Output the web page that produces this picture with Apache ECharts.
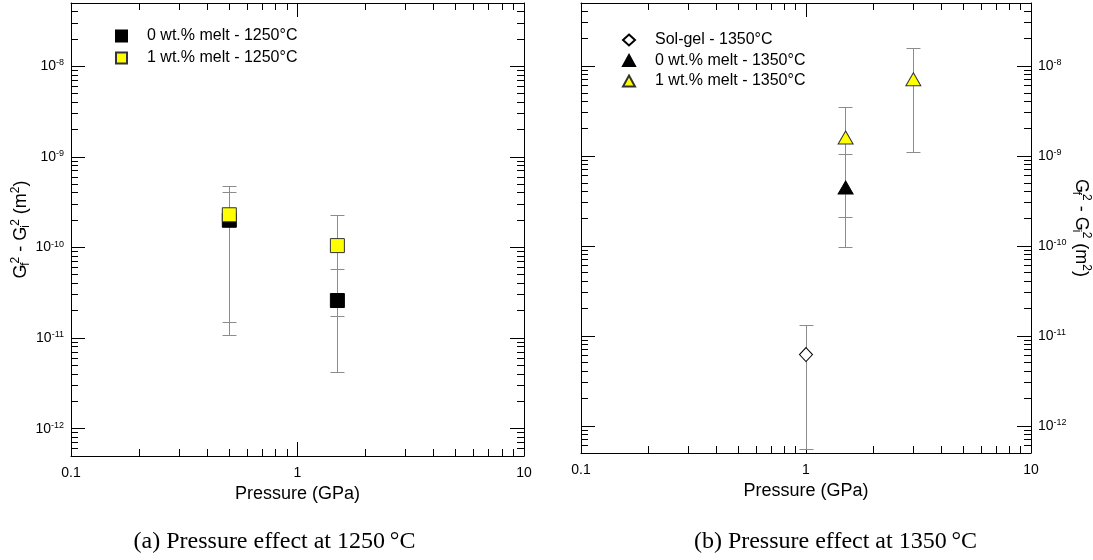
<!DOCTYPE html>
<html><head><meta charset="utf-8">
<script src="https://cdn.jsdelivr.net/npm/echarts@6/dist/echarts.min.js"></script>
<style>html,body{margin:0;padding:0;background:#fff}#c{width:1093px;height:560px}</style>
</head><body><div id="c"></div>
<script>
// ---------- data ----------
const xTickLabels = ['0.1', '1', '10'];
const xMin = 0.1, xMax = 10, yMin = 5e-13, yMax = 5e-8;
const minorMultipliers = [2, 3, 4, 5, 6, 7, 8, 9];
const xDecades = [-1, 0];
const yDecades = [-13, -12, -11, -10, -9, -8];

// Panel (a) 1250 °C
const a0Name = '0 wt.% melt - 1250°C';
const a0Pressure = [0.5, 1.5];
const a0Value = [2.0e-10, 2.6e-11];
const a0Low = [1.07e-11, 4.2e-12];
const a0High = [4.05e-10, 5.7e-11];

const a1Name = '1 wt.% melt - 1250°C';
const a1Pressure = [0.5, 1.5];
const a1Value = [2.3e-10, 1.05e-10];
const a1Low = [1.5e-11, 1.73e-11];
const a1High = [4.7e-10, 2.26e-10];

// Panel (b) 1350 °C
const bsName = 'Sol-gel - 1350°C';
const bsPressure = [1.0];
const bsValue = [6.2e-12];
const bsLow = [5.5e-13];
const bsHigh = [1.29e-11];

const b0Name = '0 wt.% melt - 1350°C';
const b0Pressure = [1.5];
const b0Value = [4.45e-10];
const b0Low = [9.6e-11];
const b0High = [1.03e-9];

const b1Name = '1 wt.% melt - 1350°C';
const b1Pressure = [1.5, 3.0];
const b1Value = [1.6e-9, 7.1e-9];
const b1Low = [2.07e-10, 1.09e-9];
const b1High = [3.45e-9, 1.56e-8];

const captionA = '(a) Pressure effect at 1250\u2009°C';
const captionB = '(b) Pressure effect at 1350\u2009°C';
const xTitle = 'Pressure (GPa)';

// ---------- helpers ----------
const SANS = '"Liberation Sans", Arial, Helvetica, sans-serif';
const SERIF = '"Liberation Serif", "Times New Roman", serif';
const pts = (xs, ys) => xs.map((x, i) => [x, ys[i]]);
const bars = (xs, lo, hi) => xs.map((x, i) => [x, lo[i], hi[i]]);

function minorTickData() {
  const d = [];
  xDecades.forEach(e => minorMultipliers.forEach(m => {
    const v = m * Math.pow(10, e);
    if (v > xMin && v < xMax) d.push([v, 1e-10, 0]);
  }));
  yDecades.forEach(e => minorMultipliers.forEach(m => {
    const v = m * Math.pow(10, e);
    if (v > yMin && v < yMax) d.push([1, v, 1]);
  }));
  return d;
}

function crisp(v) { return Math.round(v - 0.5) + 0.5; }

function renderMinor(params, api) {
  const cs = params.coordSys;
  const kind = api.value(2);
  const L = 7;
  const st = { stroke: '#000', lineWidth: 1 };
  if (kind === 0) {
    const px = crisp(api.coord([api.value(0), api.value(1)])[0]);
    return { type: 'group', children: [
      { type: 'line', shape: { x1: px, y1: cs.y + cs.height, x2: px, y2: cs.y + cs.height - L }, style: st },
      { type: 'line', shape: { x1: px, y1: cs.y, x2: px, y2: cs.y + L }, style: st }
    ]};
  }
  const py = crisp(api.coord([api.value(0), api.value(1)])[1]);
  return { type: 'group', children: [
    { type: 'line', shape: { x1: cs.x, y1: py, x2: cs.x + L, y2: py }, style: st },
    { type: 'line', shape: { x1: cs.x + cs.width, y1: py, x2: cs.x + cs.width - L, y2: py }, style: st }
  ]};
}

function renderErr(params, api) {
  const x = api.value(0);
  const p1 = api.coord([x, api.value(1)]);
  const p2 = api.coord([x, api.value(2)]);
  const cx = crisp(p1[0]);
  const w = 7;
  const st = { stroke: '#8c8c8c', lineWidth: 1 };
  return { type: 'group', children: [
    { type: 'line', shape: { x1: cx, y1: p1[1], x2: cx, y2: p2[1] }, style: st },
    { type: 'line', shape: { x1: cx - w, y1: crisp(p1[1]), x2: cx + w, y2: crisp(p1[1]) }, style: st },
    { type: 'line', shape: { x1: cx - w, y1: crisp(p2[1]), x2: cx + w, y2: crisp(p2[1]) }, style: st }
  ]};
}

function yLabel(v) {
  const l = Math.log10(v);
  const e = Math.round(l);
  if (Math.abs(l - e) > 1e-6) return '';
  return '{b|10}{s|' + e + '}';
}
function xLabel(v) {
  const l = Math.log10(v);
  const e = Math.round(l);
  if (Math.abs(l - e) > 1e-6) return '';
  return xTickLabels[e + 1];
}

const tickRich = {
  b: { fontSize: 14, fontFamily: SANS, color: '#000', lineHeight: 16 },
  s: { fontSize: 9, fontFamily: SANS, color: '#000', verticalAlign: 'top', lineHeight: 16, padding: [0, 0, 6, 0] }
};
const nameRich = {
  t: { fontSize: 18, fontFamily: SANS, color: '#000', lineHeight: 24 },
  sub: { fontSize: 12, fontFamily: SANS, color: '#000', width: 1, padding: [9, 0, 0, 0] },
  sup: { fontSize: 12, fontFamily: SANS, color: '#000', padding: [0, 0, 10, 0] }
};
const yName = '{t|G}{sub|f}{sup|2}{t| - G}{sub|i}{sup|2}{t| (m}{sup|2}{t|)}';

function xAxisDef(grid, pos, withLabels) {
  return {
    type: 'log', logBase: 10, gridIndex: grid, position: pos, min: xMin, max: xMax,
    axisLine: { show: true, lineStyle: { color: '#000', width: 1 } },
    axisTick: { show: true, inside: true, length: 14, lineStyle: { color: '#000', width: 1 } },
    axisLabel: { show: withLabels, margin: 10, formatter: xLabel, fontSize: 14, fontFamily: SANS, color: '#000' },
    splitLine: { show: false },
    name: withLabels ? xTitle : '', nameLocation: 'middle', nameGap: 27,
    nameTextStyle: { fontSize: 18, fontFamily: SANS, color: '#000' }
  };
}
function yAxisDef(grid, pos, withLabels, nameRot) {
  return {
    type: 'log', logBase: 10, gridIndex: grid, position: pos, min: yMin, max: yMax,
    axisLine: { show: true, lineStyle: { color: '#000', width: 1 } },
    axisTick: { show: true, inside: true, length: 14, lineStyle: { color: '#000', width: 1 } },
    axisLabel: { show: withLabels, margin: 7, formatter: yLabel, rich: tickRich },
    splitLine: { show: false },
    name: withLabels ? yName : '', nameLocation: 'middle', nameGap: 36, nameRotate: nameRot,
    nameTextStyle: { rich: nameRich }
  };
}

const legendBase = {
  orient: 'vertical', itemWidth: 11, itemHeight: 11,
  formatter: n => '{sp| }' + n,
  textStyle: { fontSize: 16, fontFamily: SANS, color: '#000', lineHeight: 16,
    rich: { sp: { width: 15, fontSize: 16, lineHeight: 16 } } },
  selectedMode: false
};

const option = {
  animation: false,
  backgroundColor: '#fff',
  grid: [
    { left: 71, top: 3, width: 453, height: 453, outerBoundsMode: 'none', containLabel: false },
    { left: 581, top: 3, width: 450, height: 450, outerBoundsMode: 'none', containLabel: false }
  ],
  xAxis: [
    xAxisDef(0, 'bottom', true), xAxisDef(0, 'top', false),
    xAxisDef(1, 'bottom', true), xAxisDef(1, 'top', false)
  ],
  yAxis: [
    yAxisDef(0, 'left', true, 90), yAxisDef(0, 'right', false, 90),
    yAxisDef(1, 'left', false, -90), yAxisDef(1, 'right', true, -90)
  ],
  legend: [
    Object.assign({}, legendBase, { left: 110, top: 23, itemGap: 6, data: [a0Name, a1Name] }),
    Object.assign({}, legendBase, { left: 617, top: 27, itemGap: 4.5, itemWidth: 12, data: [bsName, b0Name, b1Name] })
  ],
  graphic: [
    { type: 'text', x: 274.5, y: 542, style: { text: captionA, font: '24px ' + SERIF, fill: '#000', align: 'center', verticalAlign: 'middle' } },
    { type: 'text', x: 835.5, y: 542, style: { text: captionB, font: '24px ' + SERIF, fill: '#000', align: 'center', verticalAlign: 'middle' } }
  ],
  series: [
    { type: 'custom', xAxisIndex: 0, yAxisIndex: 0, renderItem: renderMinor, data: minorTickData(), silent: true, z: 1 },
    { type: 'custom', xAxisIndex: 2, yAxisIndex: 2, renderItem: renderMinor, data: minorTickData(), silent: true, z: 1 },
    // error bars
    { type: 'custom', xAxisIndex: 0, yAxisIndex: 0, renderItem: renderErr, data: bars(a0Pressure, a0Low, a0High), z: 2, silent: true },
    { type: 'custom', xAxisIndex: 0, yAxisIndex: 0, renderItem: renderErr, data: bars(a1Pressure, a1Low, a1High), z: 2, silent: true },
    { type: 'custom', xAxisIndex: 2, yAxisIndex: 2, renderItem: renderErr, data: bars(bsPressure, bsLow, bsHigh), z: 2, silent: true },
    { type: 'custom', xAxisIndex: 2, yAxisIndex: 2, renderItem: renderErr, data: bars(b0Pressure, b0Low, b0High), z: 2, silent: true },
    { type: 'custom', xAxisIndex: 2, yAxisIndex: 2, renderItem: renderErr, data: bars(b1Pressure, b1Low, b1High), z: 2, silent: true },
    // markers
    { name: a0Name, type: 'scatter', xAxisIndex: 0, yAxisIndex: 0, symbol: 'rect', symbolSize: 14, z: 3,
      itemStyle: { color: '#000', borderColor: '#000', borderWidth: 1, opacity: 1 }, data: pts(a0Pressure, a0Value) },
    { name: a1Name, type: 'scatter', xAxisIndex: 0, yAxisIndex: 0, symbol: 'rect', symbolSize: 14, z: 4,
      itemStyle: { color: '#ffff00', borderColor: '#333', borderWidth: 1, opacity: 1 }, data: pts(a1Pressure, a1Value) },
    { name: bsName, type: 'scatter', xAxisIndex: 2, yAxisIndex: 2, symbol: 'diamond', symbolSize: [13, 14], z: 3,
      itemStyle: { color: '#fff', borderColor: '#000', borderWidth: 1, opacity: 1 }, data: pts(bsPressure, bsValue) },
    { name: b0Name, type: 'scatter', xAxisIndex: 2, yAxisIndex: 2, symbol: 'triangle', symbolSize: [15, 13], z: 3,
      itemStyle: { color: '#000', borderColor: '#000', borderWidth: 1, opacity: 1 }, data: pts(b0Pressure, b0Value) },
    { name: b1Name, type: 'scatter', xAxisIndex: 2, yAxisIndex: 2, symbol: 'triangle', symbolSize: [15, 13], z: 4,
      itemStyle: { color: '#ffff00', borderColor: '#333', borderWidth: 1, opacity: 1 }, data: pts(b1Pressure, b1Value) }
  ]
};
const chart = echarts.init(document.getElementById('c'), null, { renderer: 'canvas' });
chart.setOption(option);
</script>
</body></html>
